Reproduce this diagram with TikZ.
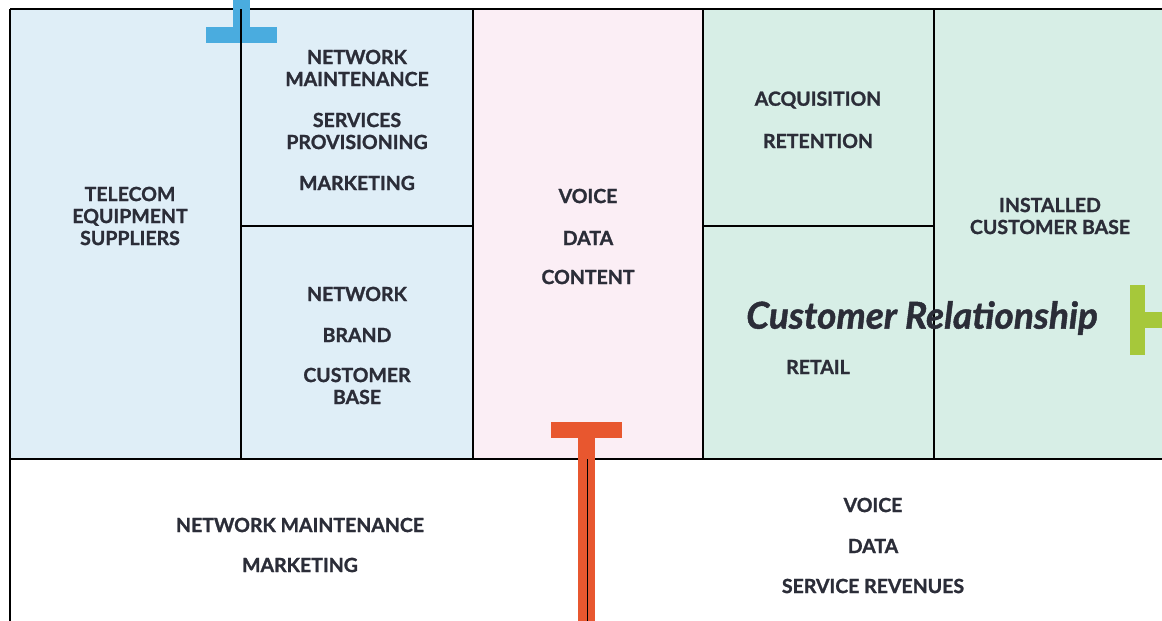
\documentclass[tikz,border=0pt]{standalone}
\usepackage{fontspec}
\setmainfont{Lato}[BoldFont={Lato Bold},BoldItalicFont={Lato Bold Italic},BoldFeatures={FakeBold=1.2},BoldItalicFeatures={FakeBold=1.2}]
\definecolor{cblue}{HTML}{DFEEF7}
\definecolor{cpink}{HTML}{FBEEF5}
\definecolor{cgreen}{HTML}{D7EEE6}
\definecolor{tblue}{HTML}{4AACDF}
\definecolor{torange}{HTML}{E8572F}
\definecolor{tgreen}{HTML}{A6C83A}
\definecolor{ink}{HTML}{2B2D38}
\begin{document}
\begin{tikzpicture}[x=1pt,y=-1pt,
  lbl/.style={font=\fontsize{19.5}{22}\selectfont\bfseries, text=ink, align=center, inner sep=0pt},
  lblb/.style={font=\fontsize{19.5}{22}\selectfont\bfseries, text=ink, align=center, inner sep=0pt},
  grid/.style={line width=1.2pt, black}]
\useasboundingbox (0,0) rectangle (1162,621);
\fill[white] (0,0) rectangle (1162,621);
% cells
\fill[cblue] (10,9) rectangle (473,459);
\fill[cpink] (473,9) rectangle (703,459);
\fill[cgreen] (703,9) rectangle (1162,459);
% grid lines
\draw[line width=2pt] (10,9) -- (1162,9);
\draw[grid] (10,9) -- (10,621);
\draw[grid] (241,9) -- (241,459);
\draw[grid] (473,9) -- (473,459);
\draw[grid] (703,9) -- (703,459);
\draw[grid] (934,9) -- (934,459);
\draw[grid] (241,226) -- (473,226);
\draw[grid] (703,226) -- (934,226);
\draw[grid] (10,459) -- (1162,459);
\draw[line width=2pt] (473,459) -- (703,459);
% T shapes
\fill[tblue] (233,0) rectangle (250,30);
\fill[tblue] (206,27) rectangle (277,43);
\draw[grid] (241,9) -- (241,43);
\fill[torange] (551,422) rectangle (622,438);
\fill[torange] (578,438) rectangle (595,621);
\draw[line width=1pt] (587,459) -- (587,621);
\fill[tgreen] (1130,285) rectangle (1145,355);
\fill[tgreen] (1145,312) rectangle (1162,328);
% labels
\node[lbl] (tel) at (130,216) {TELECOM\\EQUIPMENT\\SUPPLIERS};
\node[lbl] (nm1) at (357,68) {NETWORK\\MAINTENANCE};
\node[lbl] (sp) at (357,131) {SERVICES\\PROVISIONING};
\node[lbl] (mk1) at (357,183) {MARKETING};
\node[lbl] (nw) at (357,294) {NETWORK};
\node[lbl] (br) at (357,335) {BRAND};
\node[lbl] (cb) at (357,386) {CUSTOMER\\BASE};
\node[lbl] (vo1) at (588,196) {VOICE};
\node[lbl] (da1) at (588,238) {DATA};
\node[lbl] (co) at (588,277) {CONTENT};
\node[lbl] (acq) at (818,100) {ACQUISITION};
\node[lbl] (ret) at (818,141) {RETENTION};
\node[lbl] (rtl) at (818,367) {RETAIL};
\node[lbl] (icb) at (1050,216) {INSTALLED\\CUSTOMER BASE};
\node[font=\fontsize{37}{40}\selectfont\bfseries\itshape, text=ink, inner sep=0pt] (cr) at (922,318) {Customer Relationship};
\node[lblb] (nm2) at (300,525) {NETWORK MAINTENANCE};
\node[lblb] (mk2) at (300,565) {MARKETING};
\node[lblb] (vo2) at (873,505) {VOICE};
\node[lblb] (da2) at (873,546) {DATA};
\node[lblb] (sr) at (873,586) {SERVICE REVENUES};
\end{tikzpicture}
\end{document}
